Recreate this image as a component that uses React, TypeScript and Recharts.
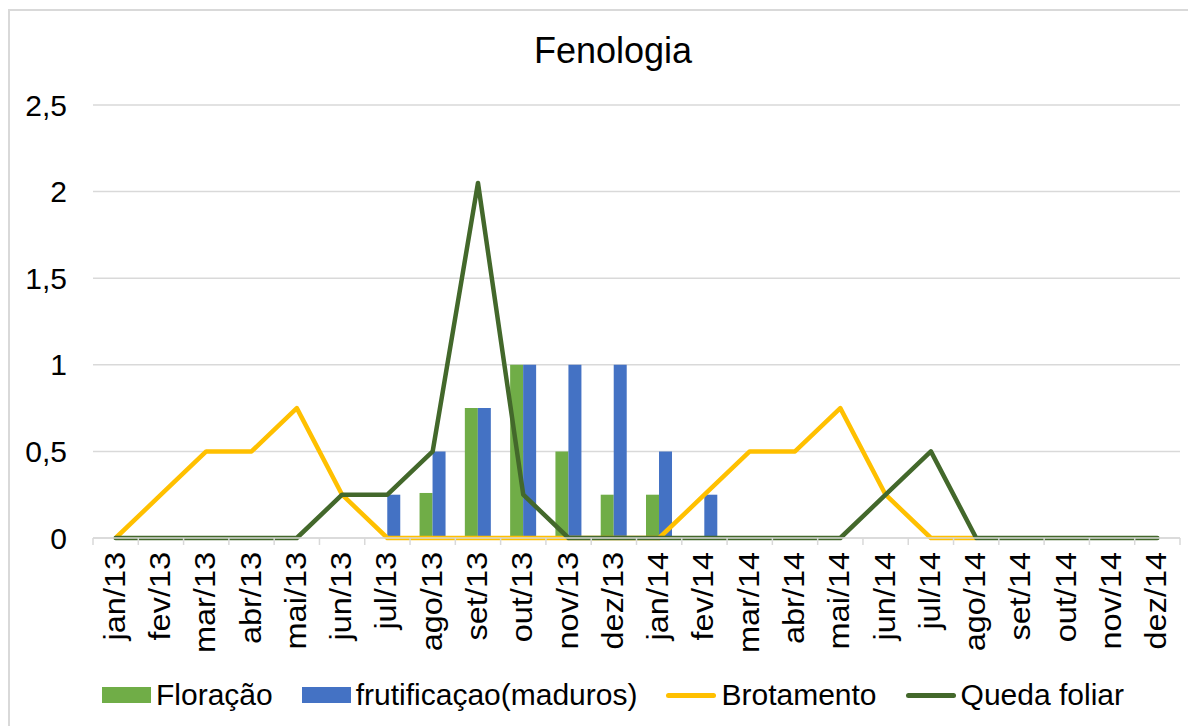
import { ComposedChart, Bar, Line, XAxis, YAxis, CartesianGrid, Legend } from 'recharts';

const months = [
  'jan/13', 'fev/13', 'mar/13', 'abr/13', 'mai/13', 'jun/13', 'jul/13', 'ago/13', 'set/13', 'out/13', 'nov/13', 'dez/13',
  'jan/14', 'fev/14', 'mar/14', 'abr/14', 'mai/14', 'jun/14', 'jul/14', 'ago/14', 'set/14', 'out/14', 'nov/14', 'dez/14',
];
const floracao = [0, 0, 0, 0, 0, 0, 0, 0.26, 0.75, 1, 0.5, 0.25, 0.25, 0, 0, 0, 0, 0, 0, 0, 0, 0, 0, 0];
const frutificacao = [0, 0, 0, 0, 0, 0, 0.25, 0.5, 0.75, 1, 1, 1, 0.5, 0.25, 0, 0, 0, 0, 0, 0, 0, 0, 0, 0];
const brotamento = [0, 0.25, 0.5, 0.5, 0.75, 0.25, 0, 0, 0, 0, 0, 0, 0, 0.25, 0.5, 0.5, 0.75, 0.25, 0, 0, null, null, null, null];
const quedaFoliar = [0, 0, 0, 0, 0, 0.25, 0.25, 0.5, 2.05, 0.25, 0, 0, 0, 0, 0, 0, 0, 0.25, 0.5, 0, 0, 0, 0, 0];
const yTicks = [0, 0.5, 1, 1.5, 2, 2.5];

const data = months.map((m, i) => ({
  month: m,
  floracao: floracao[i],
  frutificacao: frutificacao[i],
  brotamento: brotamento[i],
  queda: quedaFoliar[i],
}));

const W = 1186;
const H = 715;
const PLOT_LEFT = 83;
const PLOT_RIGHT = 1170;
const BAND = (PLOT_RIGHT - PLOT_LEFT) / months.length;
const FONT = 'Arial, "Liberation Sans", sans-serif';

// month labels are rotated; tick marks sit on the category boundaries
const MonthTick = (props: any) => {
  const { x, y, payload, index } = props;
  return (
    <g>
      <line x1={x - BAND / 2} y1={y} x2={x - BAND / 2} y2={y + 7} stroke="#d9d9d9" strokeWidth={1.5} />
      {index === months.length - 1 && (
        <line x1={x + BAND / 2} y1={y} x2={x + BAND / 2} y2={y + 7} stroke="#d9d9d9" strokeWidth={1.5} />
      )}
      <text
        transform={`translate(${x + 9},${y + 14}) rotate(-90) scale(1.12,1)`}
        textAnchor="end"
        fontSize={29}
        fill="#000"
        fontFamily={FONT}
      >
        {payload.value}
      </text>
    </g>
  );
};

const legendItems = [
  { label: 'Floração', color: '#70AD47', type: 'bar' },
  { label: 'frutificaçao(maduros)', color: '#4472C4', type: 'bar' },
  { label: 'Brotamento', color: '#FFC000', type: 'line' },
  { label: 'Queda foliar', color: '#43682B', type: 'line' },
];

const LegendContent = () => (
  <div
    style={{
      display: 'flex',
      justifyContent: 'center',
      alignItems: 'center',
      gap: 29,
      paddingLeft: 36,
      fontFamily: FONT,
      fontSize: 30,
      height: 40,
    }}
  >
    {legendItems.map((it) => (
      <div key={it.label} style={{ display: 'flex', alignItems: 'center', gap: 5 }}>
        {it.type === 'bar' ? (
          <div style={{ width: 49, height: 16, background: it.color }} />
        ) : (
          <div style={{ width: 50, height: 5, borderRadius: 3, background: it.color }} />
        )}
        <span>{it.label}</span>
      </div>
    ))}
  </div>
);

export default function App() {
  return (
    <div
      style={{
        position: 'relative',
        marginTop: 1,
        width: W,
        height: H + 1,
        borderTop: '2px solid #d9d9d9',
        borderLeft: '2px solid #d9d9d9',
        background: '#fff',
      }}
    >
      <div
        style={{
          position: 'absolute',
          top: 19,
          left: 10,
          width: W,
          textAlign: 'center',
          fontFamily: FONT,
          fontSize: 36,
          color: '#000',
        }}
      >
        Fenologia
      </div>
      <ComposedChart
        width={W}
        height={H}
        data={data}
        margin={{ top: 94, right: W - PLOT_RIGHT, left: 0, bottom: 11 }}
        barCategoryGap="21%"
        barGap={0}
      >
        <CartesianGrid vertical={false} stroke="#d9d9d9" strokeWidth={1.5} />
        <XAxis
          dataKey="month"
          interval={0}
          height={137}
          tickLine={false}
          tickSize={0}
          tickMargin={0}
          axisLine={{ stroke: '#d9d9d9', strokeWidth: 1.5 }}
          tick={<MonthTick />}
        />
        <YAxis
          width={PLOT_LEFT}
          domain={[0, 2.5]}
          ticks={yTicks}
          axisLine={false}
          tickLine={false}
          tickSize={0}
          tickMargin={26}
          tickFormatter={(v: number) => String(v).replace('.', ',')}
          tick={{ fontSize: 30, fill: '#000', fontFamily: FONT }}
        />
        <Legend verticalAlign="bottom" content={<LegendContent />} />
        <Bar dataKey="floracao" name="Floração" fill="#70AD47" isAnimationActive={false} />
        <Bar dataKey="frutificacao" name="frutificaçao(maduros)" fill="#4472C4" isAnimationActive={false} />
        <Line
          dataKey="brotamento"
          name="Brotamento"
          stroke="#FFC000"
          strokeWidth={4.5}
          strokeLinejoin="round"
          dot={false}
          type="linear"
          isAnimationActive={false}
        />
        <Line
          dataKey="queda"
          name="Queda foliar"
          stroke="#43682B"
          strokeWidth={4.5}
          strokeLinejoin="round"
          strokeLinecap="round"
          dot={false}
          type="linear"
          isAnimationActive={false}
        />
      </ComposedChart>
    </div>
  );
}
